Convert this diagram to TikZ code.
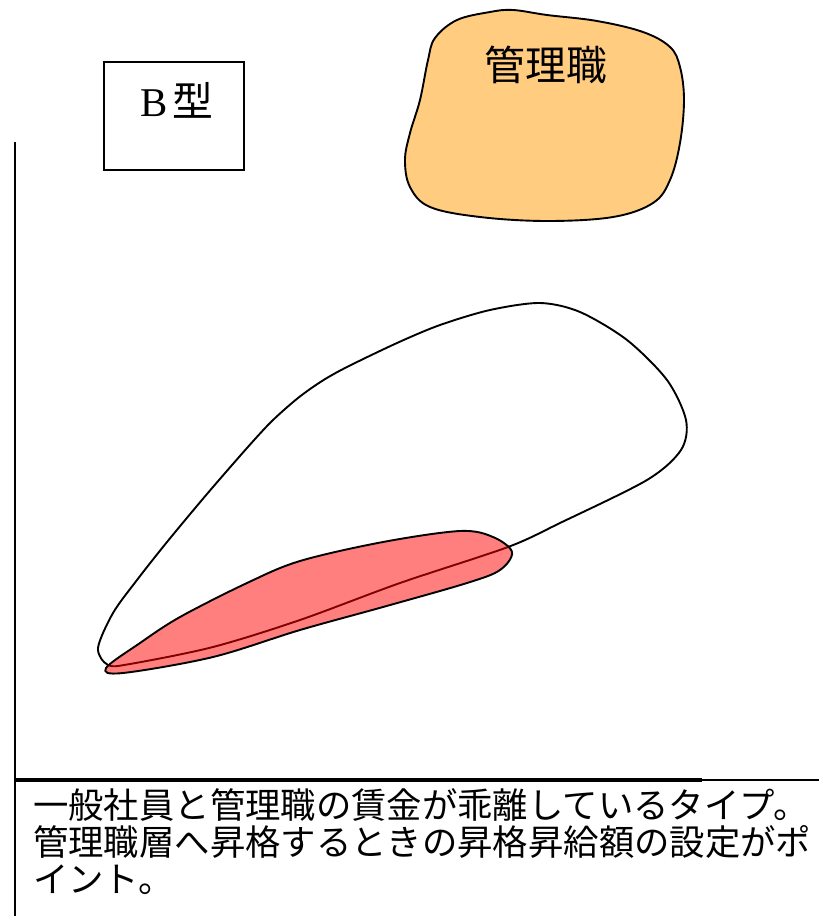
\documentclass[tikz,border=0pt]{standalone}
\usepackage{fontspec}
\setmainfont{Liberation Serif}
\newfontfamily\jp{Noto Sans CJK JP}
\definecolor{orangefill}{RGB}{255,204,128}
\begin{document}
\begin{tikzpicture}[x=1bp,y=-1bp,
  outl/.style={line width=1.9bp, line join=round},
  bodytext/.style={anchor=base west, inner sep=0pt, font=\jp\fontsize{35.5}{40}\selectfont}]
\useasboundingbox (0,0) rectangle (819,916);

% axes / text frame
\coordinate (axtop) at (15,142);
\coordinate (axbot) at (15,916);
\coordinate (hl) at (15,780);
\coordinate (hm) at (702,780);
\coordinate (hr) at (819,780);
\draw[line width=2bp] (axtop) -- (axbot);
\draw[line width=3.5bp] (hl) -- (hm);
\draw[line width=2bp] (hm) -- (hr);

% B type box
\node[draw, line width=1.4bp, minimum width=140bp, minimum height=108bp, inner sep=0pt] (bbox) at (174,116) {};
\node[inner sep=0pt] (btype) at (177,100) {\fontsize{41}{44}\selectfont B\hspace{4bp}\jp 型};

% manager blob
\draw[outl, fill=orangefill] plot[smooth cycle, tension=0.6] coordinates {
 (435,38) (457,20) (490,12) (513,10) (547,15) (597,21) (643,32) (670,47) (680,67)
 (684,100) (680,143) (670,180) (653,203) (613,217) (547,221) (480,217) (430,207)
 (410,187) (405,160) (410,133) (420,100) (428,60)};
\node[inner sep=0pt] (mgr) at (546,65) {\jp\fontsize{41}{44}\selectfont 管理職};

% general employees blob (white outline)
\draw[outl] plot[smooth cycle, tension=0.5] coordinates {
 (108,665) (98,648) (113,613) (137,580) (167,542) (207,494) (247,448) (272,421) (298,398)
 (322,381) (347,367) (397,343) (440,325) (490,310) (540,303) (580,312) (627,340) (667,380)
 (686,420) (681,450) (647,480) (560,523) (508,547) (400,583) (300,620) (213,647) (130,664)};

% red region
\draw[outl, fill=red, fill opacity=0.5] plot[smooth cycle, tension=0.55] coordinates {
 (106,668) (140,643) (180,617) (247,583) (300,561) (383,542) (460,531) (493,537)
 (512,552) (500,570) (467,583) (383,607) (300,630) (213,657) (123,673)};

% description
\node[bodytext] (t1) at (33,818) {一般社員と管理職の賃金が乖離しているタイプ。};
\node[bodytext] (t2) at (33,855) {管理職層へ昇格するときの昇格昇給額の設定がポ};
\node[bodytext] (t3) at (33,892) {イント。};
\end{tikzpicture}
\end{document}
